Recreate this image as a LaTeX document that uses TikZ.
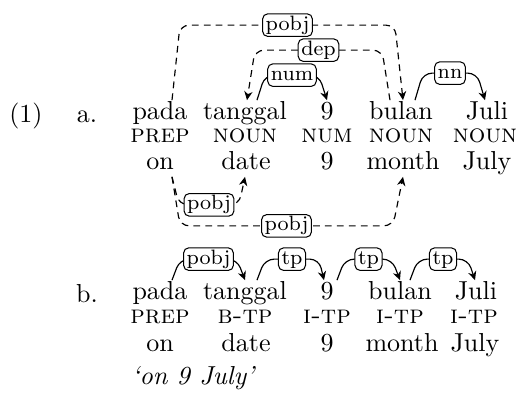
\documentclass[tikz,border=0pt]{standalone}
\usepackage{fontspec}
\usetikzlibrary{calc,arrows.meta}
\begin{document}
\begin{tikzpicture}[x=0.38462pt,y=-0.38462pt,
  word/.style={anchor=base,inner xsep=0pt,inner ysep=0.5pt,text height=6.94pt,text depth=1.94pt},
  tag/.style={anchor=base,inner sep=0pt},
  lab/.style={draw,solid,fill=white,rounded corners=2pt,inner xsep=1.2pt,inner ysep=0.8pt,
              font=\footnotesize,text height=5.5pt,text depth=1.6pt,line width=0.4pt},
  deparc/.style={line width=0.45pt,rounded corners=3.5pt,-{Stealth[length=3.4pt,width=3.2pt]}},
  deparcd/.style={deparc,dash pattern=on 2.6pt off 2pt},
]
\useasboundingbox (0,0) rectangle (519,397);

% ---- example (1a): words, tags, glosses
\node[tag] (ex) at (26,123) {(1)};
\node[tag] (la) at (87,123) {a.};
\node[word] (a1) at (160,120) {pada};
\node[word] (a2) at (245,120) {tanggal};
\node[word] (a3) at (327,120) {9};
\node[word] (a4) at (401,120) {bulan};
\node[word] (a5) at (487,120) {Juli};

\node[tag] (pa1) at (160,143) {\textsc{prep}};
\node[tag] (pa2) at (245,143) {\textsc{noun}};
\node[tag] (pa3) at (327,143) {\textsc{num}};
\node[tag] (pa4) at (401,143) {\textsc{noun}};
\node[tag] (pa5) at (485,143) {\textsc{noun}};

\node[word] (ga1) at (160,170) {on};
\node[word] (ga2) at (246,170) {date};
\node[word] (ga3) at (327,170) {9};
\node[word] (ga4) at (403,170) {month};
\node[word] (ga5) at (487,170) {July};

% arcs above the words
\draw[deparc] ($(a2.north)+(12,0)$) -- ($(a2.north)+(20,-25)$)
  -- node[lab]{num} ($(a3.north)+(-8,-25)$) -- (a3.north);
\draw[deparcd] ($(a4.north)+(-11,0)$) -- ($(a4.north)+(-19,-50)$)
  -- node[lab]{dep} ($(a2.north)+(10,-50)$) -- ($(a2.north)+(2,0)$);
\draw[deparcd] ($(a1.north)+(12,0)$) -- ($(a1.north)+(20,-75)$)
  -- node[lab]{pobj} ($(a4.north)+(-6,-75)$) -- ($(a4.north)+(2,0)$);
\draw[deparc] ($(a4.north)+(14,0)$) -- ($(a4.north)+(22,-27)$)
  -- node[lab]{nn} ($(a5.north)+(-10,-27)$) -- ($(a5.north)+(-2,0)$);

% arcs below the glosses
\draw[deparcd] ($(ga1.south)+(12,0)$) -- ($(ga1.south)+(19,28)$)
  -- node[lab]{pobj} ($(ga2.south)+(-7,28)$) -- ($(ga2.south)+(-1,0)$);
\draw[deparcd] ($(ga1.south)+(12,0)$) -- ($(ga1.south)+(20,49)$)
  -- node[lab]{pobj} ($(ga4.south)+(-10,49)$) -- (ga4.south);

% ---- example (1b)
\node[tag] (lb) at (87,303) {b.};
\node[word] (b1) at (160,300) {pada};
\node[word] (b2) at (245,300) {tanggal};
\node[word] (b3) at (327,300) {9};
\node[word] (b4) at (400,300) {bulan};
\node[word] (b5) at (476,300) {Juli};

\node[tag] (pb1) at (160,324) {\textsc{prep}};
\node[tag] (pb2) at (245,324) {\textsc{b-tp}};
\node[tag] (pb3) at (327,324) {\textsc{i-tp}};
\node[tag] (pb4) at (400,324) {\textsc{i-tp}};
\node[tag] (pb5) at (474,324) {\textsc{i-tp}};

\node[word] (gb1) at (160,351) {on};
\node[word] (gb2) at (246,351) {date};
\node[word] (gb3) at (327,351) {9};
\node[word] (gb4) at (402,351) {month};
\node[word] (gb5) at (475,351) {July};

\draw[deparc] ($(b1.north)+(12,0)$) -- ($(b1.north)+(20,-21)$)
  -- node[lab]{pobj} ($(b2.north)+(-8,-21)$) -- (b2.north);
\draw[deparc] ($(b2.north)+(12,0)$) -- ($(b2.north)+(20,-21)$)
  -- node[lab]{tp} ($(b3.north)+(-8,-21)$) -- ($(b3.north)+(-3,0)$);
\draw[deparc] ($(b3.north)+(10,0)$) -- ($(b3.north)+(18,-21)$)
  -- node[lab]{tp} ($(b4.north)+(-8,-21)$) -- (b4.north);
\draw[deparc] ($(b4.north)+(10,0)$) -- ($(b4.north)+(18,-21)$)
  -- node[lab]{tp} ($(b5.north)+(-8,-21)$) -- ($(b5.north)+(-1,0)$);

% free translation
\node[anchor=base west,inner sep=0pt] (tr) at (131,384) {\textit{`on 9 July'}};
\end{tikzpicture}
\end{document}
